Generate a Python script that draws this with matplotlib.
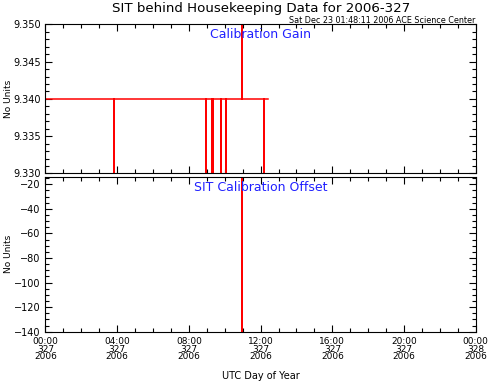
import matplotlib
matplotlib.use("Agg")
import matplotlib.pyplot as plt
from matplotlib.ticker import MultipleLocator, FixedLocator

# ---- data (hours of day 327, 2006) ----
gain_start = 0.0
gain_end = 12.41
gain_base = 9.340
gain_dip_times = [3.83, 8.94, 9.26, 9.35, 9.78, 10.06, 12.17]
gain_dip_value = 0.0
spike_time = 10.98
gain_spike_value = 100.0

offset_base = -14.5
offset_spike_value = -1000.0

tick_hours = [0, 4, 8, 12, 16, 20, 24]
tick_labels = ["00:00\n327\n2006", "04:00\n327\n2006", "08:00\n327\n2006",
               "12:00\n327\n2006", "16:00\n327\n2006", "20:00\n327\n2006",
               "00:00\n328\n2006"]

def build(base, events):
    xs, ys = [gain_start], [base]
    for t, v in sorted(events):
        xs += [t, t, t]
        ys += [base, v, base]
    xs.append(gain_end)
    ys.append(base)
    return xs, ys

gx, gy = build(gain_base, [(t, gain_dip_value) for t in gain_dip_times] + [(spike_time, gain_spike_value)])
ox, oy = build(offset_base, [(spike_time, offset_spike_value)])

plt.rcParams['font.family'] = ['DejaVu Sans']
fig = plt.figure(figsize=(4.89, 3.82), dpi=100)
left, width = 0.093, 0.880
ax1 = fig.add_axes([left, 0.546, width, 0.390])
ax2 = fig.add_axes([left, 0.1317, width, 0.4053])

red = "#ff0000"
ax1.plot(gx, gy, color=red, lw=1.1)
ax2.plot(ox, oy, color=red, lw=1.1)

ax1.set_ylim(9.330, 9.350)
ax2.set_ylim(-140, -14)
for ax in (ax1, ax2):
    ax.set_xlim(0, 24)
    ax.xaxis.set_major_locator(FixedLocator(tick_hours))
    ax.xaxis.set_minor_locator(MultipleLocator(1))
    ax.tick_params(which='both', direction='in', top=True, right=True,
                   labelsize=6.5, width=0.8, color='black')
    ax.tick_params(axis='y', labelsize=7)
    ax.tick_params(which='major', length=5)
    ax.tick_params(which='minor', length=3)
    for s in ax.spines.values():
        s.set_linewidth(0.8)
    ax.set_ylabel("No Units", fontsize=6.5)

ax1.yaxis.set_major_locator(MultipleLocator(0.005))
ax1.yaxis.set_minor_locator(MultipleLocator(0.001))
ax1.yaxis.set_major_formatter(matplotlib.ticker.FormatStrFormatter('%.3f'))
ax1.set_xticklabels([])

ax2.yaxis.set_major_locator(FixedLocator([-140, -120, -100, -80, -60, -40, -20]))
ax2.yaxis.set_minor_locator(MultipleLocator(5))
ax2.set_xticklabels(tick_labels, linespacing=0.78)
ax2.tick_params(axis='x', pad=4)
ax2.set_xlabel("UTC Day of Year", fontsize=7, labelpad=7)

ax1.yaxis.set_label_coords(-0.075, 0.5)
ax2.yaxis.set_label_coords(-0.075, 0.5)

ax1.text(0.5, 0.93, "Calibration Gain", transform=ax1.transAxes, ha='center',
         va='center', color='#2020ff', fontsize=9)
ax2.text(0.5, 0.93, "SIT Calibration Offset", transform=ax2.transAxes, ha='center',
         va='center', color='#2020ff', fontsize=9)

fig.text(0.533, 0.979, "SIT behind Housekeeping Data for 2006-327", ha='center',
         va='center', fontsize=9.6)
fig.text(0.972, 0.946, "Sat Dec 23 01:48:11 2006 ACE Science Center", ha='right',
         va='center', fontsize=5.8)

fig.savefig("out.png", dpi=100)
